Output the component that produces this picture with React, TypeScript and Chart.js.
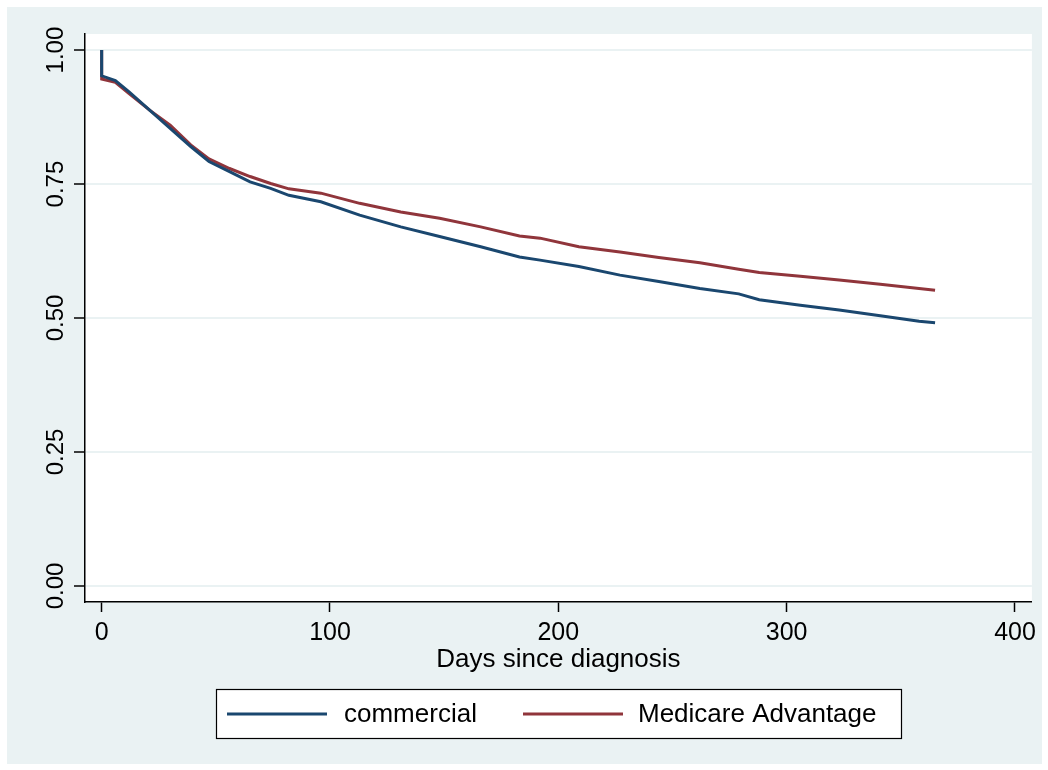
import React, { useEffect, useRef } from "react";
import { Chart, registerables } from "chart.js";

Chart.register(...registerables);

// Kaplan-Meier survival estimates (days since diagnosis -> proportion surviving)
const commercialDays = [0, 0, 6, 12, 21, 30, 39, 47, 56, 65, 74, 82, 96, 113, 131, 148, 166, 183, 192, 209, 227, 244, 262, 279, 288, 306, 323, 341, 358, 365];
const commercialSurv = [1.0, 0.952, 0.943, 0.922, 0.888, 0.854, 0.82, 0.792, 0.773, 0.754, 0.742, 0.729, 0.717, 0.692, 0.67, 0.652, 0.633, 0.614, 0.608, 0.596, 0.58, 0.568, 0.555, 0.545, 0.534, 0.524, 0.515, 0.504, 0.494, 0.491];

const medicareDays = [0, 0, 6, 12, 21, 30, 39, 47, 56, 65, 74, 82, 96, 113, 131, 148, 166, 183, 192, 209, 227, 244, 262, 279, 288, 306, 323, 341, 358, 365];
const medicareSurv = [1.0, 0.946, 0.94, 0.919, 0.888, 0.86, 0.823, 0.797, 0.779, 0.764, 0.751, 0.741, 0.733, 0.714, 0.698, 0.686, 0.67, 0.653, 0.649, 0.633, 0.623, 0.613, 0.603, 0.591, 0.585, 0.578, 0.571, 0.563, 0.555, 0.552];

const seriesLabels = ["commercial", "Medicare Advantage"];
const xTickValues = [0, 100, 200, 300, 400];
const yTickValues = [0, 0.25, 0.5, 0.75, 1];
const yTickLabels = ["0.00", "0.25", "0.50", "0.75", "1.00"];
const xAxisTitle = "Days since diagnosis";

const BLUE = "#1a476f";
const RED = "#90353b";
const BG = "#eaf2f3";
const FONT = '"Liberation Sans", Arial, sans-serif';

const W = 1035;
const H = 757;

const decorations = {
  id: "stataDecor",
  beforeDraw(chart: any) {
    const { ctx, chartArea } = chart;
    ctx.save();
    ctx.fillStyle = BG;
    ctx.fillRect(0, 0, chart.width, chart.height);
    ctx.fillStyle = "#ffffff";
    ctx.fillRect(chartArea.left, chartArea.top, chartArea.right - chartArea.left, chartArea.bottom - chartArea.top);
    ctx.restore();
  },
  afterDraw(chart: any) {
    const { ctx, chartArea } = chart;
    const yScale = chart.scales.y;
    ctx.save();
    ctx.fillStyle = "#000000";

    // rotated y tick labels
    ctx.font = `24px ${FONT}`;
    ctx.textAlign = "center";
    ctx.textBaseline = "alphabetic";
    yTickValues.forEach((v, i) => {
      const py = yScale.getPixelForValue(v);
      ctx.save();
      ctx.translate(56, py);
      ctx.rotate(-Math.PI / 2);
      ctx.fillText(yTickLabels[i], 0, 0);
      ctx.restore();
    });

    // x axis title
    ctx.font = `26px ${FONT}`;
    ctx.textAlign = "center";
    ctx.fillText(xAxisTitle, (chartArea.left + chartArea.right) / 2, 660);

    // legend box
    const bx = 209, by = 682, bw = 685, bh = 49;
    ctx.fillStyle = "#ffffff";
    ctx.fillRect(bx, by, bw, bh);
    ctx.strokeStyle = "#000000";
    ctx.lineWidth = 1.2;
    ctx.strokeRect(bx + 0.5, by + 0.5, bw, bh);

    const ly = by + 25;
    const entries = [
      { x0: 220, x1: 320, tx: 337 },
      { x0: 516, x1: 616, tx: 631 },
    ];
    chart.data.datasets.forEach((ds: any, i: number) => {
      const e = entries[i];
      ctx.strokeStyle = ds.borderColor;
      ctx.lineWidth = 2.8;
      ctx.beginPath();
      ctx.moveTo(e.x0, ly);
      ctx.lineTo(e.x1, ly);
      ctx.stroke();
      ctx.fillStyle = "#000000";
      ctx.font = `26px ${FONT}`;
      ctx.textAlign = "left";
      ctx.textBaseline = "middle";
      ctx.fillText(ds.label, e.tx, ly + 1);
    });
    ctx.restore();
  },
};

export default function App() {
  const canvasRef = useRef<HTMLCanvasElement | null>(null);

  useEffect(() => {
    const canvas = canvasRef.current;
    if (!canvas) return;
    const chart = new Chart(canvas, {
      type: "line",
      data: {
        datasets: [
          {
            label: seriesLabels[0],
            data: commercialDays.map((d, i) => ({ x: d, y: commercialSurv[i] })),
            borderColor: BLUE,
            borderWidth: 3,
            pointRadius: 0,
            tension: 0,
            fill: false,
          },
          {
            label: seriesLabels[1],
            data: medicareDays.map((d, i) => ({ x: d, y: medicareSurv[i] })),
            borderColor: RED,
            borderWidth: 3,
            pointRadius: 0,
            tension: 0,
            fill: false,
          },
        ],
      },
      options: {
        responsive: false,
        animation: false,
        devicePixelRatio: 1,
        layout: { padding: { top: 27, right: 9, left: 0, bottom: 0 } },
        plugins: {
          legend: { display: false },
          tooltip: { enabled: false },
        },
        scales: {
          x: {
            type: "linear",
            min: -7.3,
            max: 407.4,
            afterBuildTicks: (scale: any) => {
              scale.ticks = xTickValues.map((v) => ({ value: v }));
            },
            afterFit: (scale: any) => {
              scale.height = 162;
            },
            border: { display: true, color: "#000000", width: 1.5 },
            grid: {
              drawOnChartArea: false,
              drawTicks: true,
              tickLength: 10,
              tickColor: "#000000",
              tickWidth: 1.5,
            },
            ticks: {
              color: "#000000",
              font: { family: FONT, size: 25 },
              padding: 6,
              maxRotation: 0,
              minRotation: 0,
              callback: (v: any) => String(v),
            },
          },
          y: {
            type: "linear",
            min: -0.03,
            max: 1.03,
            afterBuildTicks: (scale: any) => {
              scale.ticks = yTickValues.map((v) => ({ value: v }));
            },
            afterFit: (scale: any) => {
              scale.width = 78;
            },
            border: { display: true, color: "#000000", width: 1.5 },
            grid: {
              color: BG,
              lineWidth: 2,
              drawTicks: true,
              tickLength: 11,
              tickColor: "#000000",
              tickWidth: 1.5,
            },
            ticks: { display: false },
          },
        },
      },
      plugins: [decorations],
    });
    return () => chart.destroy();
  }, []);

  return (
    <div style={{ position: "absolute", left: 7, top: 7, width: W, height: H }}>
      <canvas ref={canvasRef} width={W} height={H} style={{ display: "block", width: W, height: H }} />
    </div>
  );
}
